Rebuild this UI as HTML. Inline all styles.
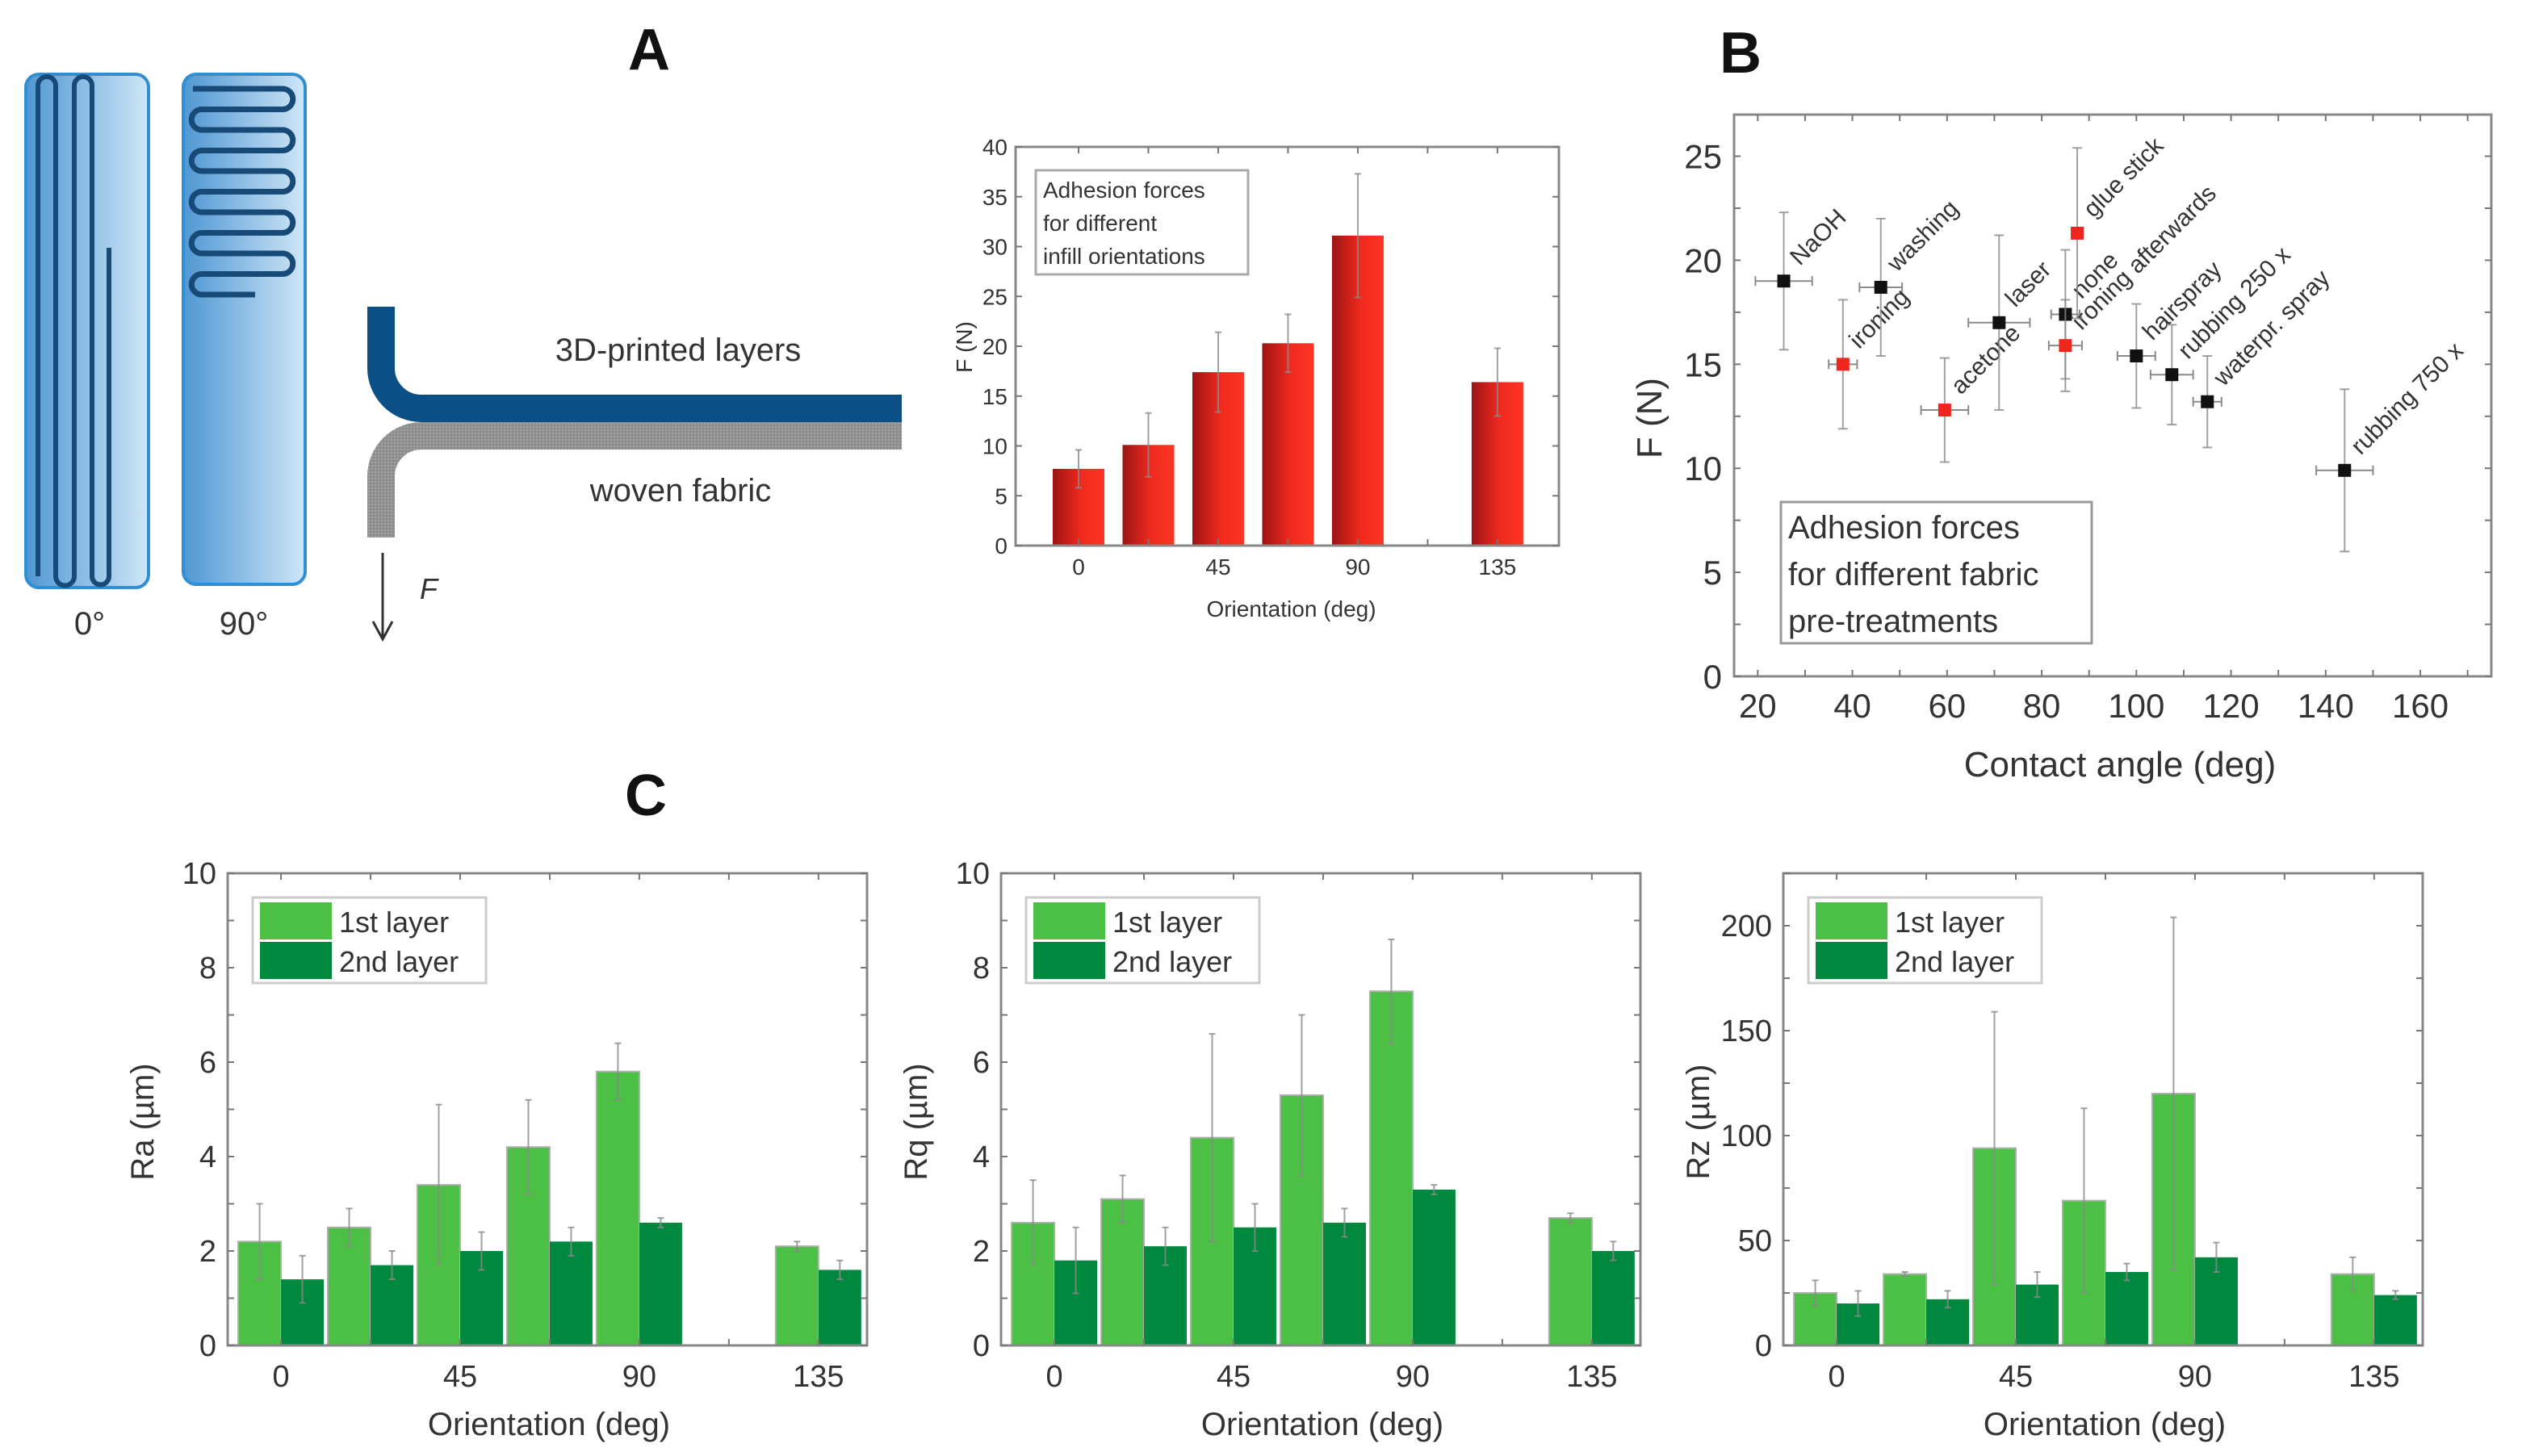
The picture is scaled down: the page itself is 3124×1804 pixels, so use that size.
<!DOCTYPE html>
<html><head><meta charset="utf-8"><style>
html,body{margin:0;padding:0;background:#fff;}
svg{display:block;font-family:"Liberation Sans",Arial,sans-serif;}
</style></head><body>
<svg id="fig" width="3124" height="1804" viewBox="0 0 3124 1804" xmlns="http://www.w3.org/2000/svg">
<defs>
<linearGradient id="blueRect" x1="0" x2="1" y1="0" y2="0"><stop offset="0" stop-color="#4f97d3"/><stop offset="1" stop-color="#cfe6f7"/></linearGradient>
<linearGradient id="redBar" x1="0" x2="1" y1="0" y2="0"><stop offset="0" stop-color="#9c1414"/><stop offset="0.55" stop-color="#ef2a1e"/><stop offset="1" stop-color="#ff3424"/></linearGradient>
<pattern id="fabric" width="4" height="4" patternUnits="userSpaceOnUse"><rect width="4" height="4" fill="#8d8d8d"/><rect width="2" height="2" fill="#a5a5a5"/></pattern>
</defs>
<g>
<rect x="32" y="92" width="152" height="636" rx="16" fill="url(#blueRect)" stroke="#2f8fd2" stroke-width="4"/>
<path d="M135,307 V714 A10.5 10.5 0 0 1 114 714 V106 A11 11 0 0 0 92 106 V714 A11.5 11.5 0 0 1 69 714 V106 A11 11 0 0 0 47 106 V714" fill="none" stroke="#174a77" stroke-width="6"/>
<rect x="227" y="92" width="151" height="632" rx="16" fill="url(#blueRect)" stroke="#2f8fd2" stroke-width="4"/>
<path id="serp90" fill="none" stroke="#174a77" stroke-width="7"/>
<text x="111" y="786" font-size="40" fill="#333" text-anchor="middle">0°</text>
<text x="302" y="786" font-size="40" fill="#333" text-anchor="middle">90°</text>
<path d="M472,380 V456 A50,50 0 0 0 522,506 H1117" fill="none" stroke="#0a4f86" stroke-width="34"/>
<path d="M1117,540 H522 A50,50 0 0 0 472,590 V666" fill="none" stroke="url(#fabric)" stroke-width="34"/>
<text x="840" y="447" font-size="40" fill="#333" text-anchor="middle">3D-printed layers</text>
<text x="843" y="621" font-size="40" fill="#333" text-anchor="middle">woven fabric</text>
<path d="M474,685 V792 M462,770 L474,792 L486,770" fill="none" stroke="#333" stroke-width="3"/>
<text x="520" y="742" font-size="36" font-style="italic" fill="#333">F</text>
</g>
<text x="804" y="86" font-size="72" font-weight="bold" text-anchor="middle" fill="#111">A</text>
<text x="2156" y="90" font-size="72" font-weight="bold" text-anchor="middle" fill="#111">B</text>
<text x="800" y="1010" font-size="72" font-weight="bold" text-anchor="middle" fill="#111">C</text>
</svg>
<script>
// ---------- Panel A bar data ----------
const aCategories = [0, 22.5, 45, 67.5, 90, 135];
const aValues = [7.7, 10.1, 17.4, 20.3, 31.1, 16.4];
const aErrors = [1.9, 3.2, 4.0, 2.9, 6.2, 3.4];
const aXTicks = [0, 45, 90, 135];
const aYTicks = [0, 5, 10, 15, 20, 25, 30, 35, 40];
// ---------- Panel B scatter data ----------
const bLabels = ["NaOH","ironing","washing","acetone","laser","none","ironing afterwards","glue stick","hairspray","rubbing 250 x","waterpr. spray","rubbing 750 x"];
const bX = [25.5, 38, 46, 59.5, 71, 85, 85, 87.5, 100, 107.5, 115, 144];
const bY = [19, 15, 18.7, 12.8, 17, 17.4, 15.9, 21.3, 15.4, 14.5, 13.2, 9.9];
const bXErr = [6, 3, 4.5, 5, 6.5, 3, 3.5, 0, 4, 4.5, 3, 6];
const bYErr = [3.3, 3.1, 3.3, 2.5, 4.2, 3.1, 2.2, 4.1, 2.5, 2.4, 2.2, 3.9];
const bRed = [false, true, false, true, false, false, true, true, false, false, false, false];
const bXTicks = [20, 40, 60, 80, 100, 120, 140, 160];
const bYTicks = [0, 5, 10, 15, 20, 25];
// ---------- Panel C data ----------
const cCategories = [0, 22.5, 45, 67.5, 90, 135];
const cXTicks = [0, 45, 90, 135];
const raFirst = [2.2, 2.5, 3.4, 4.2, 5.8, 2.1];
const raSecond = [1.4, 1.7, 2.0, 2.2, 2.6, 1.6];
const raFirstErr = [0.8, 0.4, 1.7, 1.0, 0.6, 0.1];
const raSecondErr = [0.5, 0.3, 0.4, 0.3, 0.1, 0.2];
const rqFirst = [2.6, 3.1, 4.4, 5.3, 7.5, 2.7];
const rqSecond = [1.8, 2.1, 2.5, 2.6, 3.3, 2.0];
const rqFirstErr = [0.9, 0.5, 2.2, 1.7, 1.1, 0.1];
const rqSecondErr = [0.7, 0.4, 0.5, 0.3, 0.1, 0.2];
const rzFirst = [25, 34, 94, 69, 120, 34];
const rzSecond = [20, 22, 29, 35, 42, 24];
const rzFirstErr = [6, 1, 65, 44, 84, 8];
const rzSecondErr = [6, 4, 6, 4, 7, 2];
const rYTicks = [0, 2, 4, 6, 8, 10];
const rzYTicks = [0, 50, 100, 150, 200];

const NS = "http://www.w3.org/2000/svg";
const svg = document.getElementById("fig");
function mk(tag, attrs, parent) {
  const e = document.createElementNS(NS, tag);
  for (const k in attrs) e.setAttribute(k, attrs[k]);
  (parent || svg).appendChild(e);
  return e;
}
function txt(parent, x, y, s, size, anchor, extra) {
  const t = mk("text", Object.assign({x: x, y: y, "font-size": size, fill: "#333", "text-anchor": anchor || "middle"}, extra || {}), parent);
  t.textContent = s;
  return t;
}

// 90 deg serpentine
(function () {
  let d = "M239,110";
  const step = 25.5, r = step / 2;
  for (let k = 0; k < 11; k++) {
    const y = 110 + k * step;
    if (k % 2 === 0) {
      d += " H350";
      if (k < 10) d += " A" + r + " " + r + " 0 0 1 350 " + (y + step);
    } else {
      d += " H250";
      if (k < 10) d += " A" + r + " " + r + " 0 0 0 250 " + (y + step);
    }
  }
  d = d.replace(/H350$/, "H316");
  document.getElementById("serp90").setAttribute("d", d);
})();

function frameTicks(g, L, R, T, B, xs, ys, xFn, yFn) {
  xs.forEach(v => {
    const x = xFn(v);
    mk("line", {x1: x, x2: x, y1: B, y2: B - 8, stroke: "#777", "stroke-width": 2}, g);
    mk("line", {x1: x, x2: x, y1: T, y2: T + 8, stroke: "#777", "stroke-width": 2}, g);
  });
  ys.forEach(v => {
    const y = yFn(v);
    mk("line", {x1: L, x2: L + 8, y1: y, y2: y, stroke: "#777", "stroke-width": 2}, g);
    mk("line", {x1: R, x2: R - 8, y1: y, y2: y, stroke: "#777", "stroke-width": 2}, g);
  });
}
function errBar(g, x, y1, y2, cap) {
  mk("line", {x1: x, x2: x, y1: y1, y2: y2, stroke: "#8a8a8a", "stroke-width": 2, opacity: 0.8}, g);
  mk("line", {x1: x - cap, x2: x + cap, y1: y1, y2: y1, stroke: "#8a8a8a", "stroke-width": 2, opacity: 0.8}, g);
  mk("line", {x1: x - cap, x2: x + cap, y1: y2, y2: y2, stroke: "#8a8a8a", "stroke-width": 2, opacity: 0.8}, g);
}

// ---------- Panel A chart ----------
(function () {
  const L = 1258, R = 1931, T = 182, B = 676;
  const x0 = -20.3, x1 = 154.8, y0 = 0, y1 = 40;
  const X = v => L + (v - x0) / (x1 - x0) * (R - L);
  const Y = v => B - (v - y0) / (y1 - y0) * (B - T);
  const g = mk("g", {});
  
  
  const bw = 64;
  aCategories.forEach((c, i) => {
    const r = mk("rect", {x: X(c) - bw / 2, y: Y(aValues[i]), width: bw, height: Y(0) - Y(aValues[i]), fill: "url(#redBar)"}, g);
    
    
    errBar(g, X(c), Y(aValues[i] - aErrors[i]), Y(aValues[i] + aErrors[i]), 4);
  });
  const fr = mk("rect", {x: L, y: T, width: R - L, height: B - T, fill: "none", stroke: "#888", "stroke-width": 3}, g);
  
  
  frameTicks(g, L, R, T, B, [0, 22.5, 45, 67.5, 90, 112.5, 135], aYTicks, X, Y);
  aYTicks.forEach(v => {
    const t = txt(g, L - 10, Y(v) + 10, String(v), 28, "end");
    
    
  });
  aXTicks.forEach(v => {
    const t = txt(g, X(v), 712, String(v), 28);
    
    
  });
  const xt = txt(g, (L + R) / 2 + 5, 764, "Orientation (deg)", 28);
  
  
  const yt = txt(g, 1204, 430, "F (N)", 28, "middle", {transform: "rotate(-90 1204 430)"});
  
  
  const lg = mk("rect", {x: 1283, y: 211, width: 263, height: 129, fill: "#fff", stroke: "#aaa", "stroke-width": 3}, g);
  
  
  ["Adhesion forces", "for different", "infill orientations"].forEach((s, i) => {
    const t = txt(g, 1292, 245 + i * 41, s, 28, "start");
    
    
  });
})();

// ---------- Panel B chart ----------
(function () {
  const L = 2148, R = 3086, T = 142, B = 838;
  const x0 = 15, x1 = 175, y0 = 0, y1 = 27;
  const X = v => L + (v - x0) / (x1 - x0) * (R - L);
  const Y = v => B - (v - y0) / (y1 - y0) * (B - T);
  const g = mk("g", {});
  
  
  const fr = mk("rect", {x: L, y: T, width: R - L, height: B - T, fill: "none", stroke: "#888", "stroke-width": 3}, g);
  
  
  frameTicks(g, L, R, T, B, [20, 30, 40, 50, 60, 70, 80, 90, 100, 110, 120, 130, 140, 150, 160, 170], [0, 2.5, 5, 7.5, 10, 12.5, 15, 17.5, 20, 22.5, 25], X, Y);
  bYTicks.forEach(v => {
    const t = txt(g, 2133, Y(v) + 15, String(v), 42, "end");
    
    
  });
  bXTicks.forEach(v => {
    const t = txt(g, X(v), 889, String(v), 42);
    
    
  });
  const xt = txt(g, 2626, 962, "Contact angle (deg)", 44);
  
  
  const yt = txt(g, 2058, 518, "F (N)", 44, "middle", {transform: "rotate(-90 2058 518)"});
  
  
  bLabels.forEach((lab, i) => {
    const px = X(bX[i]), py = Y(bY[i]);
    const ex1 = X(bX[i] - bXErr[i]), ex2 = X(bX[i] + bXErr[i]);
    if (bXErr[i] > 0) {
      mk("line", {x1: ex1, x2: ex2, y1: py, y2: py, stroke: "#8a8a8a", "stroke-width": 2}, g);
      mk("line", {x1: ex1, x2: ex1, y1: py - 6, y2: py + 6, stroke: "#8a8a8a", "stroke-width": 2}, g);
      mk("line", {x1: ex2, x2: ex2, y1: py - 6, y2: py + 6, stroke: "#8a8a8a", "stroke-width": 2}, g);
    }
    errBar(g, px, Y(bY[i] - bYErr[i]), Y(bY[i] + bYErr[i]), 6);
    const m = mk("rect", {x: px - 8, y: py - 8, width: 16, height: 16, fill: bRed[i] ? "#f0261e" : "#111"}, g);
    
    
    const tx = px + 20, ty = py - 18;
    const t = txt(g, tx, ty, lab, 30, "start", {transform: "rotate(-45 " + tx + " " + ty + ")"});
    
    
  });
  const lg = mk("rect", {x: 2206, y: 622, width: 385, height: 175, fill: "#fff", stroke: "#999", "stroke-width": 3}, g);
  
  
  ["Adhesion forces", "for different fabric", "pre-treatments"].forEach((s, i) => {
    const t = txt(g, 2215, 667 + i * 58, s, 40, "start");
    
    
  });
})();

// ---------- Panel C charts ----------
function roughChart(name, L, ymax, yticks, minorStep, first, second, firstErr, secondErr, ytitle) {
  const R = L + 792, T = 1082, B = 1667;
  const x0 = -13.4, x1 = 147.2;
  const X = v => L + (v - x0) / (x1 - x0) * (R - L);
  const Y = v => B - v / ymax * (B - T);
  const g = mk("g", {});
  
  
  const bw = 53;
  cCategories.forEach((c, i) => {
    const cx = X(c);
    const r1 = mk("rect", {x: cx - bw, y: Y(first[i]), width: bw, height: B - Y(first[i]), fill: "#4cbf45", stroke: "#a9b0a9", "stroke-width": 2}, g);
    
    
    const r2 = mk("rect", {x: cx, y: Y(second[i]), width: bw, height: B - Y(second[i]), fill: "#00883f"}, g);
    
    
    errBar(g, cx - bw / 2, Y(first[i] - firstErr[i]), Y(first[i] + firstErr[i]), 4);
    errBar(g, cx + bw / 2, Y(second[i] - secondErr[i]), Y(second[i] + secondErr[i]), 4);
  });
  const fr = mk("rect", {x: L, y: T, width: R - L, height: B - T, fill: "none", stroke: "#888", "stroke-width": 3}, g);
  
  
  const minors = [];
  for (let v = 0; v <= ymax + 0.001; v += minorStep) minors.push(v);
  frameTicks(g, L, R, T, B, [0, 22.5, 45, 67.5, 90, 112.5, 135], minors, X, Y);
  yticks.forEach(v => {
    const t = txt(g, L - 14, Y(v) + 13, String(v), 38, "end");
    
    
  });
  cXTicks.forEach(v => {
    const t = txt(g, X(v), 1718, String(v), 38);
    
    
  });
  const xt = txt(g, L + 398, 1778, "Orientation (deg)", 40);
  
  
  const yx = L - 92, yy = 1390;
  const yt = txt(g, yx, yy, ytitle, 40, "middle", {transform: "rotate(-90 " + yx + " " + yy + ")"});
  
  
  const lg = mk("rect", {x: L + 31, y: 1112, width: 289, height: 106, fill: "#fff", stroke: "#ccc", "stroke-width": 3}, g);
  
  
  const s1 = mk("rect", {x: L + 40, y: 1118, width: 89, height: 46, fill: "#4cbf45"}, g);
  
  
  const s2 = mk("rect", {x: L + 40, y: 1167, width: 89, height: 46, fill: "#00883f"}, g);
  
  
  const t1 = txt(g, L + 138, 1155, "1st layer", 36, "start");
  
  
  const t2 = txt(g, L + 138, 1204, "2nd layer", 36, "start");
  
  
}
roughChart("panel-c-ra-chart", 282, 10, rYTicks, 1, raFirst, raSecond, raFirstErr, raSecondErr, "Ra (\u00b5m)");
roughChart("panel-c-rq-chart", 1240, 10, rYTicks, 1, rqFirst, rqSecond, rqFirstErr, rqSecondErr, "Rq (\u00b5m)");
roughChart("panel-c-rz-chart", 2209, 225, rzYTicks, 25, rzFirst, rzSecond, rzFirstErr, rzSecondErr, "Rz (\u00b5m)");
</script>
</body></html>
